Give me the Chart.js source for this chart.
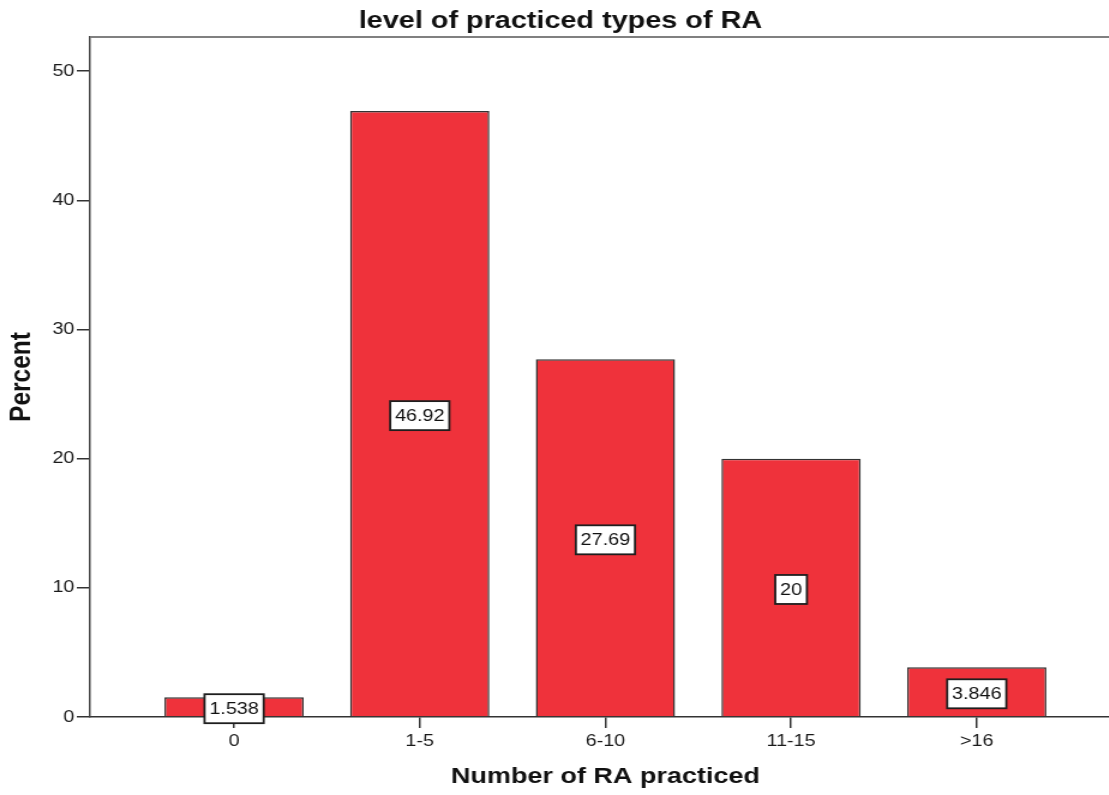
<!DOCTYPE html>
<html>
<head>
<meta charset="utf-8">
<script src="https://cdn.jsdelivr.net/npm/chart.js@4.4.1/dist/chart.umd.min.js"></script>
<style>
  html, body { margin: 0; padding: 0; background: #ffffff; overflow: hidden; width: 1109px; height: 795px; }
  #wrap { width: 934px; height: 795px; transform: scaleX(1.2); transform-origin: 0 0; }
  canvas { display: block; }
</style>
</head>
<body>
<div id="wrap"><canvas id="c" width="934" height="795"></canvas></div>
<script>
const chartTitle = 'level of practiced types of RA';
const xTitle = 'Number of RA practiced';
const yTitle = 'Percent';
const categories = ['0', '1-5', '6-10', '11-15', '>16'];
const percentValues = [1.538, 46.92, 27.69, 20, 3.846];
const yTickValues = [0, 10, 20, 30, 40, 50];

const FONT = '"Liberation Sans", Arial, sans-serif';

const frameTop = {
  id: 'frameTop',
  afterDraw(chart) {
    const { ctx, chartArea } = chart;
    ctx.save();
    ctx.strokeStyle = '#808080';
    ctx.lineWidth = 2;
    ctx.beginPath();
    ctx.moveTo(chartArea.left, chartArea.top);
    ctx.lineTo(chartArea.right, chartArea.top);
    ctx.stroke();
    ctx.restore();
  }
};

const boxLabels = {
  id: 'boxLabels',
  afterDatasetsDraw(chart) {
    const { ctx } = chart;
    const meta = chart.getDatasetMeta(0);
    ctx.save();
    ctx.font = '16.5px ' + FONT;
    ctx.textAlign = 'center';
    ctx.textBaseline = 'middle';
    meta.data.forEach((el, i) => {
      const txt = String(percentValues[i]);
      const w = ctx.measureText(txt).width + 8;
      const h = 29;
      const cx = el.x;
      const cy = (el.y + el.base) / 2 + 2;
      ctx.fillStyle = '#ffffff';
      ctx.fillRect(cx - w / 2, cy - h / 2, w, h);
      ctx.strokeStyle = '#1e1e1e';
      ctx.lineWidth = 1.8;
      ctx.strokeRect(cx - w / 2, cy - h / 2, w, h);
      ctx.fillStyle = '#111111';
      ctx.fillText(txt, cx, cy + 1);
    });
    ctx.restore();
  }
};

new Chart(document.getElementById('c'), {
  type: 'bar',
  data: {
    datasets: [{
      data: percentValues.map((v, i) => ({ x: i, y: v })),
      backgroundColor: '#ef323b',
      borderColor: '#333333',
      borderWidth: 1.5,
      categoryPercentage: 1,
      barPercentage: 0.75
    }]
  },
  options: {
    responsive: false,
    animation: false,
    devicePixelRatio: 1,
    layout: { padding: 0 },
    plugins: {
      legend: { display: false },
      tooltip: { enabled: false },
      title: {
        display: true,
        text: chartTitle,
        color: '#111111',
        font: { family: FONT, size: 24, weight: 'bold', lineHeight: 1.2 },
        padding: { top: 6.5, bottom: 1.7 }
      }
    },
    scales: {
      x: {
        type: 'linear',
        position: 'bottom',
        offset: false,
        min: -0.776,
        max: 4.776,
        afterBuildTicks: (s) => { s.ticks = categories.map((_, i) => ({ value: i })); },
        afterFit: (s) => { s.height = 78; },
        grid: { display: true, offset: false, drawOnChartArea: false, drawTicks: true, tickLength: 11, color: '#333333', lineWidth: 1.5 },
        border: { display: true, color: '#333333', width: 1.5 },
        ticks: {
          padding: 4,
          color: '#1a1a1a',
          font: { family: FONT, size: 16.5 },
          maxRotation: 0,
          autoSkip: false,
          callback: (v) => categories[v] !== undefined ? categories[v] : ''
        },
        title: {
          display: true,
          text: xTitle,
          color: '#111111',
          font: { family: FONT, size: 22.5, weight: 'bold', lineHeight: 1.2 },
          padding: { top: 0, bottom: 4.5 }
        }
      },
      y: {
        min: 0,
        max: 52.65,
        afterBuildTicks: (s) => { s.ticks = yTickValues.map(v => ({ value: v })); },
        afterFit: (s) => { s.width = 75; },
        grid: { display: true, drawOnChartArea: false, drawTicks: true, tickLength: 11, color: '#333333', lineWidth: 1.5 },
        border: { display: true, color: '#444444', width: 1.5 },
        ticks: {
          padding: 2,
          color: '#1a1a1a',
          font: { family: FONT, size: 16.5 }
        },
        title: {
          display: true,
          text: yTitle,
          color: '#111111',
          font: { family: FONT, size: 24.5, weight: 'bold', lineHeight: 1.2 },
          padding: { top: 3.5, bottom: 0 }
        }
      }
    }
  },
  plugins: [frameTop, boxLabels]
});
</script>
</body>
</html>
